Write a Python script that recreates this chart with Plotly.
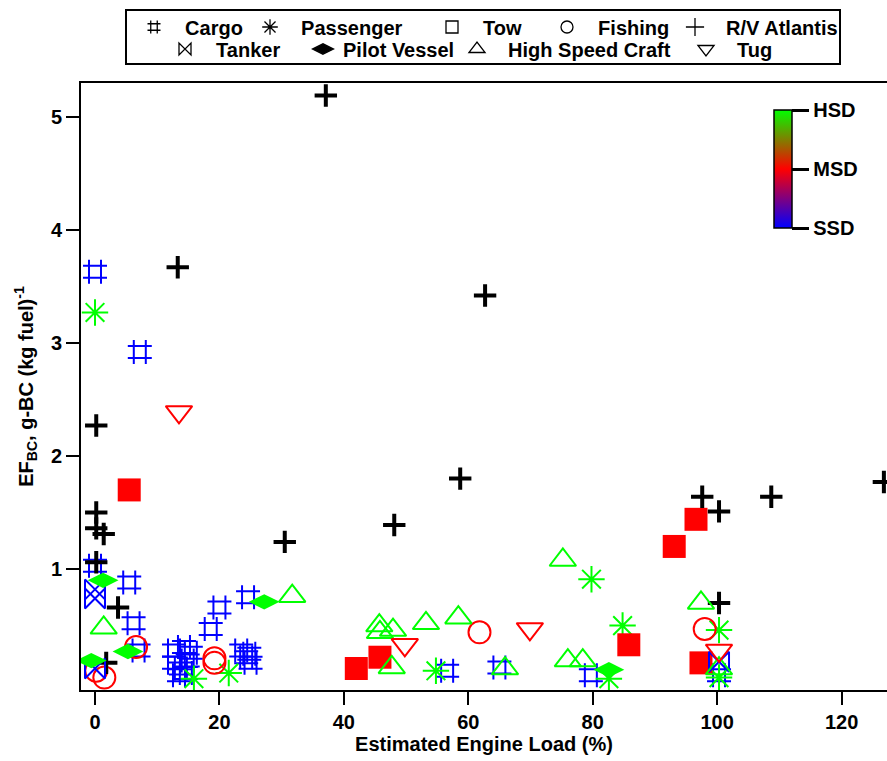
import plotly.graph_objects as go

# ---------------- data ----------------
# engine type codes: 0 = SSD (blue), 1 = MSD (red), 2 = HSD (green)
cargo_x = [0, 7.2, 0, 5.5, 6.2, 7.0, 12.7, 14.3, 15.4, 12.7, 13.8, 14.9, 13.5, 14.6,
           18.6, 20.0, 24.6, 23.5, 24.8, 25.0, 24.3, 56.6, 65.0, 79.7, 100.3]
cargo_y = [3.63, 2.92, 1.03, 0.88, 0.52, 0.28, 0.28, 0.31, 0.26, 0.17, 0.12, 0.19, 0.06, 0.08,
           0.47, 0.66, 0.75, 0.28, 0.25, 0.17, 0.22, 0.10, 0.13, 0.06, 0.06]
cargo_engine = [0] * len(cargo_x)

passenger_x = [0, 15.9, 21.5, 54.8, 79.8, 84.8, 82.6, 100.3, 100.3]
passenger_y = [3.27, 0.03, 0.08, 0.10, 0.91, 0.50, 0.03, 0.46, 0.04]
passenger_engine = [2] * len(passenger_x)

tow_x = [5.5, 42.0, 45.8, 85.8, 93.1, 96.6, 97.4]
tow_y = [1.70, 0.12, 0.22, 0.33, 1.20, 1.44, 0.17]
tow_engine = [1] * len(tow_x)

fishing_x = [1.5, 0.2, 6.6, 19.2, 19.2, 61.8, 98.0]
fishing_y = [0.04, 0.10, 0.31, 0.21, 0.17, 0.44, 0.47]
fishing_engine = [1] * len(fishing_x)

atlantis_x = [37.1, 13.3, 62.7, 0.2, 58.7, 0.2, 0.2, 1.4, 0.2, 48.1, 30.5, 3.7, 1.8,
              97.6, 100.3, 108.7, 126.8, 100.3]
atlantis_y = [5.19, 3.67, 3.42, 2.27, 1.80, 1.50, 1.36, 1.31, 1.06, 1.39, 1.24, 0.66, 0.17,
              1.64, 1.51, 1.64, 1.77, 0.70]

tanker_x = [0, 0, 0, 100.3]
tanker_y = [0.82, 0.74, 0.12, 0.18]
tanker_engine = [0] * len(tanker_x)

pilot_x = [1.3, 5.3, 27.2, -0.6, 82.6]
pilot_y = [0.90, 0.27, 0.71, 0.19, 0.11]
pilot_engine = [2] * len(pilot_x)

hsc_x = [1.4, 31.7, 45.7, 45.8, 47.9, 47.7, 53.2, 58.4, 65.9, 75.2, 76.0, 78.4, 97.4, 100.3]
hsc_y = [0.48, 0.76, 0.50, 0.44, 0.46, 0.13, 0.52, 0.57, 0.12, 1.08, 0.19, 0.19, 0.70, 0.12]
hsc_engine = [2] * len(hsc_x)

tug_x = [13.5, 49.8, 69.9, 100.3]
tug_y = [2.39, 0.33, 0.47, 0.28]
tug_engine = [1] * len(tug_x)

engine_labels = ["SSD", "MSD", "HSD"]
x_ticks = [0, 20, 40, 60, 80, 100, 120]
y_ticks = [1, 2, 3, 4, 5]

# ---------------- style ----------------
ENGINE_COLORS = ["rgb(0,0,255)", "rgb(255,0,0)", "rgb(0,255,0)"]
FONT = "Liberation Sans"
W, H = 887, 761
ML, MR, MT, MB = 81, 0, 83, 71
PW, PH = W - ML - MR, H - MT - MB


def colors(codes):
    return [ENGINE_COLORS[c] for c in codes]


def px_to_paper_x(px):
    return (px - ML) / PW


def px_to_paper_y(py):
    return (H - MB - py) / PH


fig = go.Figure()

# (name, x, y, colors, symbol, size, line width, legend symbol size, legend symbol px,
#  legend row y px, label padding)
series = [
    ("Cargo", cargo_x, cargo_y, colors(cargo_engine), "hash-open", 24, 2, 13, 152, 27, 2),
    ("Passenger", passenger_x, passenger_y, colors(passenger_engine), "asterisk-open", 22, 2, 13, 268, 27, 2),
    ("Tow", tow_x, tow_y, colors(tow_engine), "square-open", 23, 0, 12, 450, 27, 2),
    ("Fishing", fishing_x, fishing_y, colors(fishing_engine), "circle-open", 22, 2, 12, 565, 27, 2),
    ("R/V Atlantis", atlantis_x, atlantis_y, ["black"] * len(atlantis_x), "cross-thin-open", 16, 4, 13, 693, 27, 2),
    ("Tanker", tanker_x, tanker_y, colors(tanker_engine), "bowtie-open", 20, 2, 12, 183, 49, 2),
    ("Pilot Vessel", pilot_x, pilot_y, colors(pilot_engine), "diamond-wide", 22, 0, 15, 321, 49, 0),
    ("High Speed Craft", hsc_x, hsc_y, colors(hsc_engine), "triangle-up-open", 23, 2, 14, 475, 49, 2),
    ("Tug", tug_x, tug_y, colors(tug_engine), "triangle-down-open", 23, 2, 14, 704, 49, 2),
]

legend_layouts = {}
for i, (name, xs, ys, cols, sym, size, lw, lsize, lpx, lpy, pad) in enumerate(series):
    plot_sym = "square" if name == "Tow" else sym
    mk = dict(symbol=plot_sym, size=size, color=cols)
    if lw:
        mk["line"] = dict(width=lw, color=cols)
    fig.add_trace(go.Scatter(x=xs, y=ys, mode="markers", name=name, marker=mk,
                             showlegend=False, hoverinfo="x+y+name"))
    # black legend entry, each in its own legend box so it can be placed like the original
    leg_id = "legend" if i == 0 else f"legend{i + 1}"
    lmk = dict(symbol=sym, size=lsize, color="black", line=dict(width=1.3, color="black"))
    fig.add_trace(go.Scatter(x=[None], y=[None], mode="markers", name="\u00a0" * pad + name,
                             marker=lmk, showlegend=True, legend=leg_id))
    legend_layouts[leg_id] = dict(
        orientation="h", x=px_to_paper_x(lpx - 18), xanchor="left",
        y=px_to_paper_y(lpy), yanchor="middle",
        bgcolor="rgba(0,0,0,0)", borderwidth=0,
        font=dict(family=FONT, size=20, color="black", weight="bold"),
        itemsizing="trace",
    )

# colour bar for engine type
fig.add_trace(go.Scatter(
    x=[None], y=[None], mode="markers", showlegend=False,
    marker=dict(
        color=[0], cmin=0, cmax=2,
        colorscale=[[0, ENGINE_COLORS[0]], [0.5, ENGINE_COLORS[1]], [1, ENGINE_COLORS[2]]],
        showscale=True,
        colorbar=dict(
            x=px_to_paper_x(774), xanchor="left", y=px_to_paper_y(110), yanchor="top",
            len=118 / PH, lenmode="fraction", thickness=18,
            xpad=0, ypad=0, outlinewidth=1.5, outlinecolor="black",
            tickvals=[0, 1, 2], ticktext=engine_labels,
            ticks="outside", ticklen=17, tickwidth=2.5, tickcolor="black",
            tickfont=dict(family=FONT, size=20, color="black", weight="bold"),
        ),
    ),
))

axis_font = dict(family=FONT, size=20, color="black", weight="bold")

fig.update_layout(
    width=W, height=H,
    margin=dict(l=ML, r=MR, t=MT, b=MB, autoexpand=False),
    paper_bgcolor="white", plot_bgcolor="white",
    font=dict(family=FONT, color="black"),
    xaxis=dict(
        range=[-2.25, 127.3], tickvals=x_ticks, ticks="outside", ticklen=13, tickwidth=2,
        tickcolor="black", showline=True, linewidth=2, linecolor="black", mirror=True,
        showgrid=False, zeroline=False, tickfont=axis_font,
        title=dict(text="Estimated Engine Load (%)", font=axis_font, standoff=4),
    ),
    yaxis=dict(
        range=[-0.07, 5.30], tickvals=y_ticks, ticks="outside", ticklen=13, tickwidth=2,
        tickcolor="black", showline=True, linewidth=2, linecolor="black", mirror=False,
        showgrid=False, zeroline=False, tickfont=axis_font,
        title=dict(text="EF<sub>BC</sub>, g-BC (kg fuel)<sup>-1</sup>", font=axis_font, standoff=12),
    ),
    shapes=[dict(type="rect", xref="paper", yref="paper",
                 x0=px_to_paper_x(126), x1=px_to_paper_x(840),
                 y0=px_to_paper_y(64), y1=px_to_paper_y(10),
                 line=dict(color="black", width=2))],
    **legend_layouts,
)

fig.write_html("out.html", config={"displayModeBar": False},
               post_script="document.body.style.margin='0px';")
